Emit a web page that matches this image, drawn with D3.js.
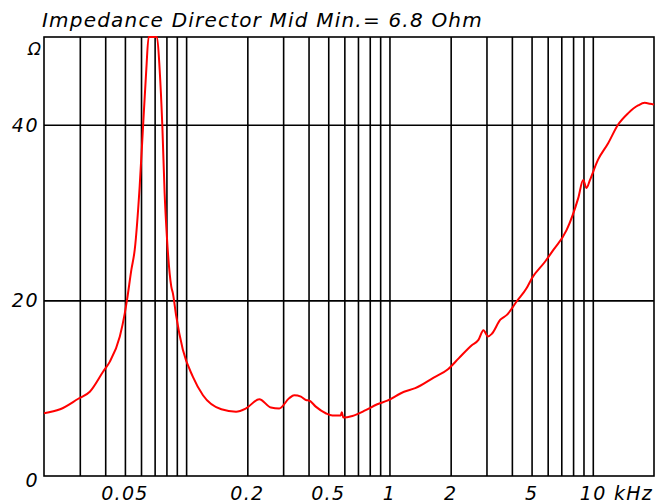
<!DOCTYPE html>
<html>
<head>
<meta charset="utf-8">
<script src="https://cdn.jsdelivr.net/npm/d3@7"></script>
<style>
  body { margin: 0; background: #fff; }
  text { font-family: "DejaVu Sans", sans-serif; font-style: italic; fill: #000; }
</style>
</head>
<body>
<div class="chart"></div>
<script>
const svgWidth = 660
const svgHeight = 504

// impedance curve (frequency in kHz, ohms)
const freqKHz = [
  0.0200, 0.0240, 0.0295, 0.0336, 0.0391, 0.0421, 0.0472, 0.0499, 0.0512, 0.0538,
  0.0559, 0.0591, 0.0614, 0.0637, 0.0654, 0.0685, 0.0719, 0.0741, 0.0764, 0.0784,
  0.0804, 0.0845, 0.0861, 0.0894, 0.0963, 0.108, 0.121, 0.149, 0.176, 0.197,
  0.229, 0.261, 0.287, 0.321, 0.340, 0.367, 0.388, 0.403, 0.434, 0.486,
  0.524, 0.576, 0.583, 0.593, 0.657, 0.764, 0.871, 0.975, 1.18, 1.34,
  1.65, 1.94, 2.19, 2.54, 2.74, 2.90, 3.05, 3.19, 3.51, 3.78,
  4.23, 4.73, 5.01, 5.82, 6.40, 7.43, 8.48, 8.97, 9.31, 9.68,
  10.6, 11.9, 13.3, 14.9, 16.7, 18.0, 19.1, 20.0
]
const impedance = [
  7.15, 7.6, 8.8, 9.6, 11.9, 13.0, 15.9, 18.5, 20.05, 23.5,
  25.8, 33.0, 39.8, 46.3, 50, 50, 50, 46.3, 39.8, 32.2,
  27.3, 21.6, 20.8, 18.2, 14.4, 11.3, 9.2, 7.6, 7.33, 7.7,
  8.74, 7.8, 7.7, 8.85, 9.2, 9.04, 8.66, 8.6, 7.9, 7.15,
  6.9, 6.9, 7.26, 6.65, 6.84, 7.5, 8.17, 8.58, 9.6, 10.0,
  11.2, 12.16, 13.4, 14.9, 15.5, 16.6, 15.9, 16.2, 17.8, 18.35,
  19.9, 21.4, 22.5, 24.4, 25.75, 28.0, 31.65, 33.7, 32.8, 33.7,
  36.0, 37.9, 40.0, 41.3, 42.2, 42.5, 42.4, 42.3
]

const gridFreqs = [
  0.03, 0.04, 0.05, 0.06, 0.07, 0.08, 0.09, 0.1,
  0.2, 0.3, 0.4, 0.5, 0.6, 0.7, 0.8, 0.9, 1,
  2, 3, 4, 5, 6, 7, 8, 9, 10
]
const xTickValues = [0.05, 0.2, 0.5, 1, 2, 5, 10]
const xTickLabels = ["0.05", "0.2", "0.5", "1", "2", "5", "10"]
const yGridValues = [20, 40]
const yTickValues = [0, 20, 40]
const yTickLabels = ["0", "20", "40"]

let margin = {
  top: 37,
  right: 6,
  bottom: 28,
  left: 44
}

let width = svgWidth - margin.left - margin.right
let height = svgHeight - margin.top - margin.bottom

let svg = d3
  .select(".chart")
  .append("svg")
  .attr("width", svgWidth)
  .attr("height", svgHeight)

let chartGroup = svg
  .append("g")
  .attr("transform", `translate(${margin.left}, ${margin.top})`)

let xLogScale = d3
  .scaleLog()
  .domain([0.02, 20])
  .range([0, width])

let yLinearScale = d3
  .scaleLinear()
  .domain([0, 50])
  .range([height, 0])
  .clamp(true)

// vertical grid
chartGroup
  .append("g")
  .attr("class", "x-grid")
  .attr("transform", `translate(0, ${height})`)
  .call(d3.axisBottom(xLogScale).tickValues(gridFreqs).tickSize(-height).tickFormat(""))

// horizontal grid
chartGroup
  .append("g")
  .attr("class", "y-grid")
  .call(d3.axisLeft(yLinearScale).tickValues(yGridValues).tickSize(-width).tickFormat(""))

chartGroup.selectAll(".x-grid .domain, .y-grid .domain").remove()
chartGroup.selectAll(".x-grid line, .y-grid line")
  .attr("stroke", "#000")
  .attr("stroke-width", 1.6)

// frame
chartGroup
  .append("rect")
  .attr("width", width)
  .attr("height", height)
  .attr("fill", "none")
  .attr("stroke", "#000")
  .attr("stroke-width", 1.6)

// impedance line
let line = d3
  .line()
  .x((d, i) => xLogScale(freqKHz[i]))
  .y(d => yLinearScale(d))
  .curve(d3.curveMonotoneX)

chartGroup
  .append("path")
  .datum(impedance)
  .attr("d", line)
  .attr("fill", "none")
  .attr("stroke", "#ff0000")
  .attr("stroke-width", 2)
  .attr("stroke-linejoin", "round")

// x labels
chartGroup
  .selectAll(".x-label")
  .data(xTickValues)
  .enter()
  .append("text")
  .attr("class", "x-label")
  .attr("x", d => xLogScale(d))
  .attr("y", height + 24)
  .attr("text-anchor", "middle")
  .style("font-size", "19px")
  .style("letter-spacing", "1.3px")
  .text((d, i) => xTickLabels[i])

chartGroup
  .select(".x-label:last-of-type")
  .attr("text-anchor", "start")
  .attr("x", xLogScale(10) - 13)
  .text("10 kHz")

// y labels
chartGroup
  .selectAll(".y-label")
  .data(yTickValues)
  .enter()
  .append("text")
  .attr("class", "y-label")
  .attr("x", -5)
  .attr("y", d => d === 0 ? yLinearScale(d) + 11 : yLinearScale(d) + 7)
  .attr("text-anchor", "end")
  .style("font-size", "19px")
  .style("letter-spacing", "1.5px")
  .text((d, i) => yTickLabels[i])

chartGroup
  .append("text")
  .attr("x", -3)
  .attr("y", 18)
  .attr("text-anchor", "end")
  .style("font-size", "17px")
  .text("Ω")

// title
svg
  .append("text")
  .attr("x", 42)
  .attr("y", 27)
  .style("font-size", "20px")
  .style("letter-spacing", "1.2px")
  .text("Impedance Director Mid Min.= 6.8 Ohm")
</script>
</body>
</html>
